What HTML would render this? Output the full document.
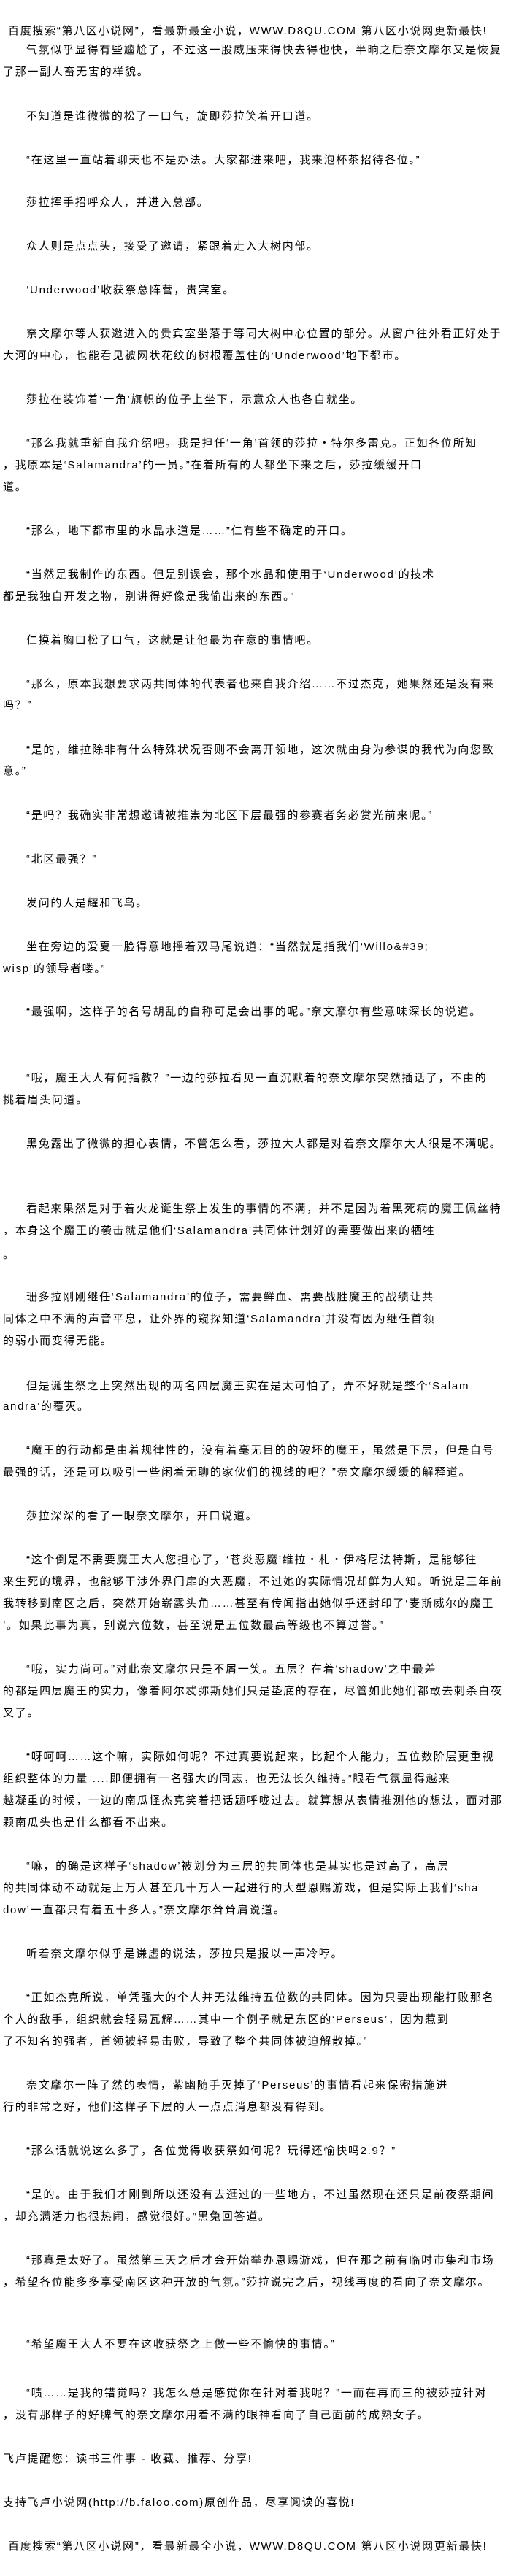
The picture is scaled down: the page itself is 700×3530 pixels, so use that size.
<!DOCTYPE html>
<html lang="zh-CN"><head><meta charset="utf-8">
<style>
html,body{margin:0;padding:0;background:#fff;}
body{width:700px;height:3530px;position:relative;overflow:hidden;}
div{position:absolute;left:4px;white-space:nowrap;font-family:"Liberation Sans","Noto Sans CJK SC","WenQuanYi Zen Hei",sans-serif;font-size:15px;letter-spacing:1.7px;line-height:30px;height:30px;color:#000;}
.i{left:36px;}
.h{left:11px;}
</style></head><body>
<div class="h" style="top:28px">百度搜索“第八区小说网”，看最新最全小说，WWW.D8QU.COM  第八区小说网更新最快!</div>
<div class="i" style="top:54px">气氛似乎显得有些尴尬了，不过这一股威压来得快去得也快，半晌之后奈文摩尔又是恢复</div>
<div style="top:84px">了那一副人畜无害的样貌。</div>
<div class="i" style="top:145px">不知道是谁微微的松了一口气，旋即莎拉笑着开口道。</div>
<div class="i" style="top:205px">“在这里一直站着聊天也不是办法。大家都进来吧，我来泡杯茶招待各位。”</div>
<div class="i" style="top:263px">莎拉挥手招呼众人，并进入总部。</div>
<div class="i" style="top:323px">众人则是点点头，接受了邀请，紧跟着走入大树内部。</div>
<div class="i" style="top:383px">‘Underwood’收获祭总阵营，贵宾室。</div>
<div class="i" style="top:443px">奈文摩尔等人获邀进入的贵宾室坐落于等同大树中心位置的部分。从窗户往外看正好处于</div>
<div style="top:473px">大河的中心，也能看见被网状花纹的树根覆盖住的‘Underwood’地下都市。</div>
<div class="i" style="top:533px">莎拉在装饰着‘一角’旗帜的位子上坐下，示意众人也各自就坐。</div>
<div class="i" style="top:593px">“那么我就重新自我介绍吧。我是担任‘一角’首领的莎拉・特尔多雷克。正如各位所知</div>
<div style="top:623px">，我原本是‘Salamandra’的一员。”在着所有的人都坐下来之后，莎拉缓缓开口</div>
<div style="top:653px">道。</div>
<div class="i" style="top:713px">“那么，地下都市里的水晶水道是……”仁有些不确定的开口。</div>
<div class="i" style="top:773px">“当然是我制作的东西。但是别误会，那个水晶和使用于‘Underwood’的技术</div>
<div style="top:803px">都是我独自开发之物，别讲得好像是我偷出来的东西。”</div>
<div class="i" style="top:863px">仁摸着胸口松了口气，这就是让他最为在意的事情吧。</div>
<div class="i" style="top:923px">“那么，原本我想要求两共同体的代表者也来自我介绍……不过杰克，她果然还是没有来</div>
<div style="top:952px">吗？”</div>
<div class="i" style="top:1013px">“是的，维拉除非有什么特殊状况否则不会离开领地，这次就由身为参谋的我代为向您致</div>
<div style="top:1042px">意。”</div>
<div class="i" style="top:1103px">“是吗？我确实非常想邀请被推崇为北区下层最强的参赛者务必赏光前来呢。”</div>
<div class="i" style="top:1163px">“北区最强？”</div>
<div class="i" style="top:1223px">发问的人是耀和飞鸟。</div>
<div class="i" style="top:1283px">坐在旁边的爱夏一脸得意地摇着双马尾说道：“当然就是指我们‘Willo&amp;#39;</div>
<div style="top:1313px">wisp’的领导者喽。”</div>
<div class="i" style="top:1372px">“最强啊，这样子的名号胡乱的自称可是会出事的呢。”奈文摩尔有些意味深长的说道。</div>
<div class="i" style="top:1463px">“哦，魔王大人有何指教？”一边的莎拉看见一直沉默着的奈文摩尔突然插话了，不由的</div>
<div style="top:1493px">挑着眉头问道。</div>
<div class="i" style="top:1553px">黑兔露出了微微的担心表情，不管怎么看，莎拉大人都是对着奈文摩尔大人很是不满呢。</div>
<div class="i" style="top:1642px">看起来果然是对于着火龙诞生祭上发生的事情的不满，并不是因为着黑死病的魔王佩丝特</div>
<div style="top:1672px">，本身这个魔王的袭击就是他们‘Salamandra’共同体计划好的需要做出来的牺牲</div>
<div style="top:1705px">。</div>
<div class="i" style="top:1763px">珊多拉刚刚继任‘Salamandra’的位子，需要鲜血、需要战胜魔王的战绩让共</div>
<div style="top:1793px">同体之中不满的声音平息，让外界的窥探知道‘Salamandra’并没有因为继任首领</div>
<div style="top:1823px">的弱小而变得无能。</div>
<div class="i" style="top:1885px">但是诞生祭之上突然出现的两名四层魔王实在是太可怕了，弄不好就是整个‘Salam</div>
<div style="top:1913px">andra’的覆灭。</div>
<div class="i" style="top:1973px">“魔王的行动都是由着规律性的，没有着毫无目的的破坏的魔王，虽然是下层，但是自号</div>
<div style="top:2003px">最强的话，还是可以吸引一些闲着无聊的家伙们的视线的吧？”奈文摩尔缓缓的解释道。</div>
<div class="i" style="top:2063px">莎拉深深的看了一眼奈文摩尔，开口说道。</div>
<div class="i" style="top:2123px">“这个倒是不需要魔王大人您担心了，‘苍炎恶魔’维拉・札・伊格尼法特斯，是能够往</div>
<div style="top:2153px">来生死的境界，也能够干涉外界门扉的大恶魔，不过她的实际情况却鲜为人知。听说是三年前</div>
<div style="top:2183px">我转移到南区之后，突然开始崭露头角……甚至有传闻指出她似乎还封印了‘麦斯威尔的魔王</div>
<div style="top:2213px">’。如果此事为真，别说六位数，甚至说是五位数最高等级也不算过誉。”</div>
<div class="i" style="top:2273px">“哦，实力尚可。”对此奈文摩尔只是不屑一笑。五层？在着‘shadow’之中最差</div>
<div style="top:2303px">的都是四层魔王的实力，像着阿尔忒弥斯她们只是垫底的存在，尽管如此她们都敢去刺杀白夜</div>
<div style="top:2333px">叉了。</div>
<div class="i" style="top:2393px">“呀呵呵……这个嘛，实际如何呢？不过真要说起来，比起个人能力，五位数阶层更重视</div>
<div style="top:2423px">组织整体的力量 ....即便拥有一名强大的同志，也无法长久维持。”眼看气氛显得越来</div>
<div style="top:2453px">越凝重的时候，一边的南瓜怪杰克笑着把话题呼咙过去。就算想从表情推测他的想法，面对那</div>
<div style="top:2483px">颗南瓜头也是什么都看不出来。</div>
<div class="i" style="top:2543px">“嘛，的确是这样子‘shadow’被划分为三层的共同体也是其实也是过高了，高层</div>
<div style="top:2573px">的共同体动不动就是上万人甚至几十万人一起进行的大型恩赐游戏，但是实际上我们‘sha</div>
<div style="top:2603px">dow’一直都只有着五十多人。”奈文摩尔耸耸肩说道。</div>
<div class="i" style="top:2663px">听着奈文摩尔似乎是谦虚的说法，莎拉只是报以一声冷哼。</div>
<div class="i" style="top:2723px">“正如杰克所说，单凭强大的个人并无法维持五位数的共同体。因为只要出现能打败那名</div>
<div style="top:2753px">个人的敌手，组织就会轻易瓦解……其中一个例子就是东区的‘Perseus’，因为惹到</div>
<div style="top:2783px">了不知名的强者，首领被轻易击败，导致了整个共同体被迫解散掉。”</div>
<div class="i" style="top:2843px">奈文摩尔一阵了然的表情，紫幽随手灭掉了‘Perseus’的事情看起来保密措施进</div>
<div style="top:2873px">行的非常之好，他们这样子下层的人一点点消息都没有得到。</div>
<div class="i" style="top:2933px">“那么话就说这么多了，各位觉得收获祭如何呢？玩得还愉快吗2.9？”</div>
<div class="i" style="top:2993px">“是的。由于我们才刚到所以还没有去逛过的一些地方，不过虽然现在还只是前夜祭期间</div>
<div style="top:3023px">，却充满活力也很热闹，感觉很好。”黑兔回答道。</div>
<div class="i" style="top:3083px">“那真是太好了。虽然第三天之后才会开始举办恩赐游戏，但在那之前有临时市集和市场</div>
<div style="top:3113px">，希望各位能多多享受南区这种开放的气氛。”莎拉说完之后，视线再度的看向了奈文摩尔。</div>
<div class="i" style="top:3198px">“希望魔王大人不要在这收获祭之上做一些不愉快的事情。”</div>
<div class="i" style="top:3265px">“啧……是我的错觉吗？我怎么总是感觉你在针对着我呢？”一而在再而三的被莎拉针对</div>
<div style="top:3295px">，没有那样子的好脾气的奈文摩尔用着不满的眼神看向了自己面前的成熟女子。</div>
<div style="top:3355px">飞卢提醒您：读书三件事 - 收藏、推荐、分享!</div>
<div style="top:3415px">支持飞卢小说网(http://b.faloo.com)原创作品，尽享阅读的喜悦!</div>
<div class="h" style="top:3475px">百度搜索“第八区小说网”，看最新最全小说，WWW.D8QU.COM  第八区小说网更新最快!</div>
</body></html>
